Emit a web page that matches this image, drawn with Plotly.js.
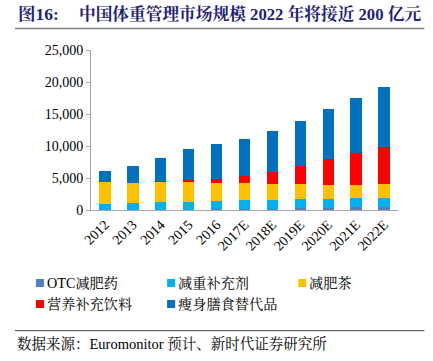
<!DOCTYPE html>
<html>
<head>
<meta charset="utf-8">
<script src="https://cdn.plot.ly/plotly-3.0.1.min.js"></script>
<style>html,body{margin:0;padding:0;background:#fff;}#chart{width:433px;height:361px;}</style>
</head>
<body>
<div id="chart"></div>
<script>
// ---- data ----
var categories = ["2012","2013","2014","2015","2016","2017E","2018E","2019E","2020E","2021E","2022E"];
var seriesNames = ["OTC减肥药","减重补充剂","减肥茶","营养补充饮料","瘦身膳食替代品"];
var otcDrugs      = [60, 60, 70, 70, 80, 100, 200, 260, 360, 420, 520];
var supplements   = [940, 1040, 1130, 1210, 1320, 1460, 1400, 1460, 1380, 1400, 1410];
var slimmingTea   = [3430, 3120, 3230, 3100, 2870, 2660, 2510, 2290, 2220, 2140, 2080];
var nutritionDrinks = [20, 30, 60, 260, 570, 1090, 1880, 2810, 3960, 5000, 5890];
var mealReplacement = [1610, 2660, 3700, 4890, 5470, 5730, 6300, 7140, 7810, 8540, 9320];
var yTickVals = [0, 5000, 10000, 15000, 20000, 25000];
var titleLabel = "图16:";
var titleText = "中国体重管理市场规模 2022 年将接近 200 亿元";
var sourceText = "数据来源：Euromonitor 预计、新时代证券研究所";

// ---- styling ----
var colors = ["#4F81BD", "#00B0F0", "#FFC000", "#FF0000", "#0070C0"];
var seriesData = [otcDrugs, supplements, slimmingTea, nutritionDrinks, mealReplacement];
var W = 433, H = 361;
var L = 91, R = 397.6, T = 50, B = 210;
function px(x){ return (x - L) / (R - L); }
function py(y){ return (B - y) / (B - T); }
var serif = "'Liberation Serif', 'Times New Roman', 'Noto Serif CJK SC', 'Noto Sans CJK SC', serif";

var traces = seriesData.map(function(vals, i){
  return {
    type: "bar",
    x: categories,
    y: vals,
    name: seriesNames[i],
    marker: {color: colors[i], line: {width: 0}},
    hoverinfo: "skip"
  };
});

var annotations = [];
var shapes = [];
// title
annotations.push({xref:"paper", yref:"paper", x:px(16), y:py(14), xanchor:"left", yanchor:"middle",
  text:"<b>"+titleLabel+"</b>", showarrow:false, font:{family:serif, size:17.5, color:"#1F1F7A"}});
annotations.push({xref:"paper", yref:"paper", x:px(77), y:py(14), xanchor:"left", yanchor:"middle",
  text:"<b>"+titleText+"</b>", showarrow:false, font:{family:serif, size:16.7, color:"#1F1F7A"}});
shapes.push({type:"line", xref:"paper", yref:"paper", x0:px(15), x1:px(424), y0:py(28.5), y1:py(28.5),
  line:{color:"#7f7f7f", width:1.5}});

// legend (custom)
var legPos = [[36,283],[167,283],[298,283],[36,304],[167,304]];
seriesNames.forEach(function(n, i){
  var p = legPos[i];
  shapes.push({type:"rect", xref:"paper", yref:"paper", x0:px(p[0]), x1:px(p[0]+8), y0:py(p[1]+4), y1:py(p[1]-4),
    fillcolor:colors[i], line:{width:0}});
  annotations.push({xref:"paper", yref:"paper", x:px(p[0]+9), y:py(p[1]), xanchor:"left", yanchor:"middle",
    text:n, showarrow:false, font:{family:serif, size:14.2, color:"#000"}});
});

// source
shapes.push({type:"line", xref:"paper", yref:"paper", x0:px(15), x1:px(424), y0:py(330.7), y1:py(330.7),
  line:{color:"#404040", width:1}});
annotations.push({xref:"paper", yref:"paper", x:px(15), y:py(343), xanchor:"left", yanchor:"middle",
  text:sourceText, showarrow:false, font:{family:serif, size:14.5, color:"#000"}});

var layout = {
  width: W, height: H,
  margin: {l: L, r: W - R, t: T, b: H - B, pad: 0},
  paper_bgcolor: "#fff", plot_bgcolor: "#fff",
  barmode: "stack",
  bargap: 0.59,
  showlegend: false,
  xaxis: {
    type: "category",
    showline: true, linecolor: "#a6a6a6", linewidth: 1,
    ticks: "", tickangle: -45,
    tickfont: {family: serif, size: 14, color: "#000"},
    showgrid: false, zeroline: false, fixedrange: true
  },
  yaxis: {
    range: [0, 25000],
    tickvals: yTickVals,
    tickformat: ",d",
    showline: true, linecolor: "#a6a6a6", linewidth: 1,
    ticks: "outside", ticklen: 4, tickcolor: "#a6a6a6",
    tickfont: {family: serif, size: 14, color: "#000"},
    showgrid: false, zeroline: false, fixedrange: true
  },
  annotations: annotations,
  shapes: shapes
};

Plotly.newPlot("chart", traces, layout, {staticPlot: true, displayModeBar: false});
</script>
</body>
</html>
